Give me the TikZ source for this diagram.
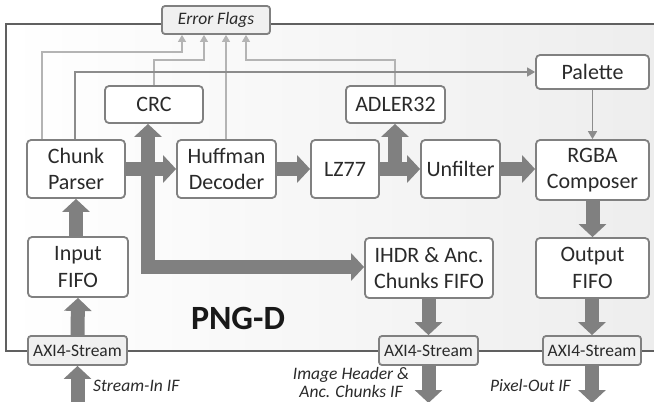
\documentclass[tikz,border=0pt]{standalone}
\usepackage{fontspec}
\setmainfont{Carlito}
\usetikzlibrary{arrows.meta}
\definecolor{boxborder}{HTML}{808080}
\definecolor{arrowgray}{HTML}{808080}
\definecolor{thinlight}{HTML}{B4B4B4}
\definecolor{thindark}{HTML}{8C8C8C}
\definecolor{framecol}{HTML}{606060}
\definecolor{txt}{HTML}{2A2A2A}
\definecolor{ifill}{HTML}{F0F0F0}
\tikzset{
  blk/.style={draw=boxborder, line width=1.8pt, fill=white, rounded corners=4pt,
    inner sep=0pt, align=center, text=txt, font=\fontsize{22}{26.4}\selectfont},
  ifbox/.style={draw=boxborder, line width=1.8pt, fill=ifill, rounded corners=3pt,
    inner sep=0pt, align=center, text=txt, font=\fontsize{17.5}{20}\selectfont},
  fat/.style={draw=arrowgray, line width=14pt, line join=miter,
    -{Triangle[width=27pt,length=13pt]}},
  fatboth/.style={draw=arrowgray, line width=14pt, line join=miter,
    {Triangle[width=27pt,length=13pt]}-{Triangle[width=27pt,length=13pt]}},
  thinflag/.style={draw=thinlight, line width=1.2pt, -{Triangle[width=8pt,length=7pt]}},
  thinctl/.style={draw=thindark, line width=1.6pt, -{Triangle[width=9pt,length=8pt]}},
  lbl/.style={text=txt, font=\itshape\fontsize{17.5}{18}\selectfont, inner sep=0pt},
}
\begin{document}
\begin{tikzpicture}[x=1pt,y=-1pt]
\useasboundingbox (0,0) rectangle (654,402);
% frame
\path[left color=white, right color=black!7] (6,24) rectangle (662,351);
\draw[framecol, line width=1.8pt] (662,24) -- (6,24) -- (6,351) -- (662,351);

% nodes
\node[ifbox, minimum width=108pt, minimum height=28pt, font=\itshape\fontsize{17.5}{20}\selectfont] (ef) at (216,20) {Error Flags};
\node[blk, minimum width=98pt, minimum height=58pt] (cp) at (76,169) {Chunk\\Parser};
\node[blk, minimum width=99pt, minimum height=58pt] (hd) at (226.5,169) {Huffman\\Decoder};
\node[blk, minimum width=68pt, minimum height=58pt] (lz) at (345,169) {LZ77};
\node[blk, minimum width=79pt, minimum height=58pt] (uf) at (460.5,169) {Unfilter};
\node[blk, minimum width=113pt, minimum height=60pt] (rgba) at (592.5,170) {RGBA\\Composer};
\node[blk, minimum width=98pt, minimum height=37pt] (crc) at (154,104.5) {CRC};
\node[blk, minimum width=99pt, minimum height=37pt] (ad) at (395.5,104.5) {ADLER32};
\node[blk, minimum width=113pt, minimum height=34pt] (pal) at (592.5,72) {Palette};
\node[blk, minimum width=100pt, minimum height=60pt] (inf) at (78,267) {Input\\FIFO};
\node[blk, minimum width=128pt, minimum height=60pt] (ihdr) at (429,268) {IHDR \& Anc.\\Chunks FIFO};
\node[blk, minimum width=113pt, minimum height=60pt] (outf) at (592.5,268) {Output\\FIFO};
\node[ifbox, minimum width=99pt, minimum height=29pt] (axl) at (77.5,350.5) {AXI4-Stream};
\node[ifbox, minimum width=99pt, minimum height=29pt] (axm) at (428.5,350.5) {AXI4-Stream};
\node[ifbox, minimum width=98pt, minimum height=29pt] (axr) at (592,350.5) {AXI4-Stream};
\node[text=black!90, font=\bfseries\fontsize{34}{36}\selectfont, inner sep=0pt] (title) at (238,318) {PNG-D};

% external coordinates
\coordinate (inl) at (77.5,410);
\coordinate (outm) at (428.5,403);
\coordinate (outr) at (592,403);
\coordinate (bus) at (148,267);
\coordinate (lzb) at (395,169);

% thin lines to error flags
\draw[thinflag] ([xshift=-34pt]cp.north) |- (182,52) -- (182,52 |- ef.south);
\draw[thinflag] (crc.north) |- (204,60) -- (204,60 |- ef.south);
\draw[thinflag] (hd.north -| 226,0) -- (226,0 |- ef.south);
\draw[thinflag] (ad.north -| 395,0) |- (246,60) -- (246,60 |- ef.south);
% control lines
\draw[thinctl] ([xshift=-1pt]cp.north) |- (pal.west);
\draw[thinctl] (pal.south) -- (rgba.north);

% thick data arrows
\draw[fat] (inl) -- (axl.south);
\draw[fat] (axl.north) -- (inf.south);
\draw[fat] (inf.north -| cp.south) -- (cp.south);
\draw[fat] (cp.east) -- (hd.west);
\draw[fatboth] (crc.south -| bus) -- (bus) -- (ihdr.west |- bus);
\draw[fat] (hd.east) -- (lz.west);
\draw[fat] (lz.east) -- (uf.west);
\draw[fat] (lzb) -- (ad.south -| lzb);
\draw[fat] (uf.east) -- (rgba.west |- uf.east);
\draw[fat] (rgba.south -| outf.north) -- (outf.north);
\draw[fat] (outf.south -| axr.north) -- (axr.north);
\draw[fat] (ihdr.south -| axm.north) -- (axm.north);
\draw[fat] (axm.south) -- (outm);
\draw[fat] (axr.south) -- (outr);

% labels
\node[lbl, anchor=west] (lin) at (93,386) {Stream-In IF};
\node[lbl, align=center] (lmid) at (351,382) {Image Header \&\\Anc. Chunks IF};
\node[lbl, anchor=east] (lout) at (571,385) {Pixel-Out IF};
\end{tikzpicture}
\end{document}
